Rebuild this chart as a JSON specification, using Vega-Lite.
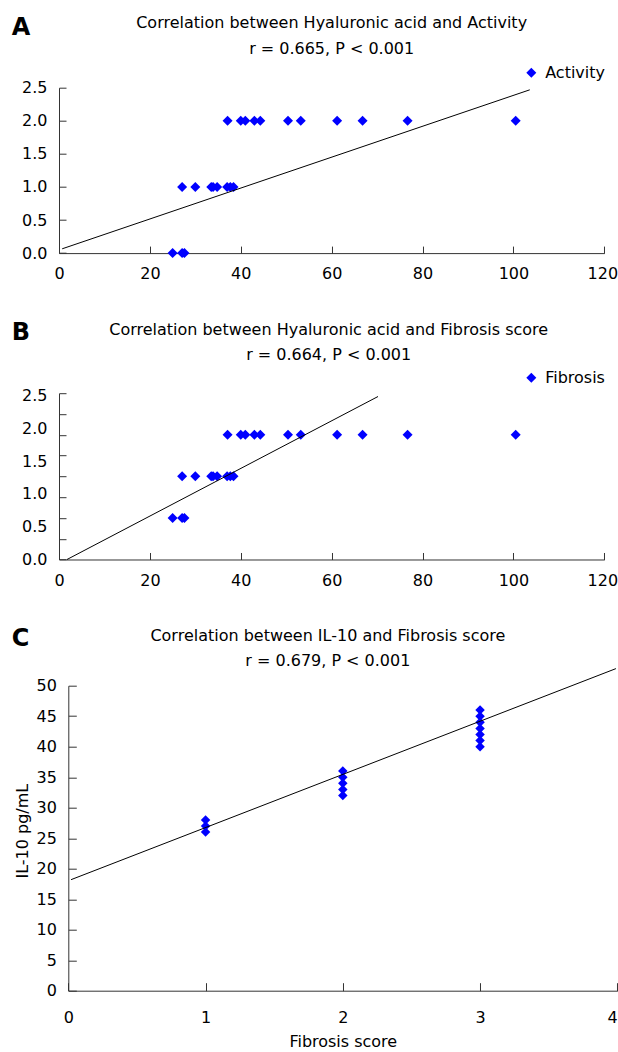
{
  "$schema": "https://vega.github.io/schema/vega-lite/v6.json",
  "padding": {"left": 11, "top": 14.7, "right": 0, "bottom": 0},
  "background": "white",
  "datasets": {
    "hfa": [
      {"ha": 25.0, "activity": 0, "fibrosis": 1},
      {"ha": 27.1, "activity": 0, "fibrosis": 1},
      {"ha": 27.6, "activity": 0, "fibrosis": 1},
      {"ha": 27.1, "activity": 1, "fibrosis": 2},
      {"ha": 30.0, "activity": 1, "fibrosis": 2},
      {"ha": 33.5, "activity": 1, "fibrosis": 2},
      {"ha": 33.9, "activity": 1, "fibrosis": 2},
      {"ha": 34.8, "activity": 1, "fibrosis": 2},
      {"ha": 37.0, "activity": 1, "fibrosis": 2},
      {"ha": 37.7, "activity": 1, "fibrosis": 2},
      {"ha": 38.4, "activity": 1, "fibrosis": 2},
      {"ha": 37.1, "activity": 2, "fibrosis": 3},
      {"ha": 40.0, "activity": 2, "fibrosis": 3},
      {"ha": 41.0, "activity": 2, "fibrosis": 3},
      {"ha": 43.0, "activity": 2, "fibrosis": 3},
      {"ha": 44.3, "activity": 2, "fibrosis": 3},
      {"ha": 50.4, "activity": 2, "fibrosis": 3},
      {"ha": 53.2, "activity": 2, "fibrosis": 3},
      {"ha": 61.2, "activity": 2, "fibrosis": 3},
      {"ha": 66.8, "activity": 2, "fibrosis": 3},
      {"ha": 76.7, "activity": 2, "fibrosis": 3},
      {"ha": 100.5, "activity": 2, "fibrosis": 3}
    ],
    "fitA": [{"ha": 0.7, "activity": 0.065}, {"ha": 103.6, "activity": 2.468}],
    "fitB": [{"ha": 1.76, "fibrosis": 0}, {"ha": 70.2, "fibrosis": 3.92}],
    "il10": [
      {"score": 1, "il10": 26}, {"score": 1, "il10": 27}, {"score": 1, "il10": 28},
      {"score": 2, "il10": 32}, {"score": 2, "il10": 33}, {"score": 2, "il10": 34}, {"score": 2, "il10": 35}, {"score": 2, "il10": 36},
      {"score": 3, "il10": 40}, {"score": 3, "il10": 41}, {"score": 3, "il10": 42}, {"score": 3, "il10": 43}, {"score": 3, "il10": 44}, {"score": 3, "il10": 45}, {"score": 3, "il10": 46}
    ],
    "fitC": [{"score": 0.02, "il10": 18.2}, {"score": 3.99, "il10": 52.8}]
  },
  "vconcat": [
    {
      "width": 545.3,
      "height": 165.4,
      "title": {"text": "Correlation between Hyaluronic acid and Activity", "subtitle": "r = 0.665, P < 0.001", "subtitlePadding": 10, "offset": -41.9, "frame": "group", "dx": 0},
      "layer": [
        {
          "data": {"name": "hfa"},
          "mark": {"type": "point", "shape": "diamond", "filled": true, "size": 100, "opacity": 1, "strokeWidth": 0},
          "encoding": {
            "x": {"field": "ha", "type": "quantitative", "scale": {"domain": [0, 120], "nice": false},
              "axis": {"values": [0, 20, 40, 60, 80, 100, 120], "tickSize": -7, "labelPadding": 19.3, "labelFlush": false, "title": null,
                "labelOffset": {"condition": {"test": "datum.value === 120", "value": -2}, "value": 0}}},
            "y": {"field": "activity", "type": "quantitative", "scale": {"domain": [0, 2.5], "nice": false},
              "axis": {"orient": "left", "values": [0, 0.5, 1, 1.5, 2, 2.5], "format": ".1f", "tickSize": -7, "labelPadding": 19,
                "title": "A", "titleAngle": 0, "titleAlign": "left", "titleBaseline": "alphabetic", "titleX": -47.7, "titleY": -53.3, "titleFontSize": 24, "titleFontWeight": "bold"}},
            "color": {"datum": "Activity", "type": "nominal", "scale": {"range": ["#0000ff"]},
              "legend": {"title": null, "orient": "none", "legendX": 464.3, "legendY": -23, "symbolType": "diamond", "symbolSize": 100, "symbolStrokeWidth": 0, "symbolOpacity": 1, "labelFontSize": 16, "labelOffset": 5.9, "padding": 0, "symbolOffset": 0, "labelColor": "#000000"}}
          }
        },
        {
          "data": {"name": "fitA"},
          "mark": {"type": "line", "color": "#000000", "strokeWidth": 1},
          "encoding": {
            "x": {"field": "ha", "type": "quantitative", "scale": {"domain": [0, 120], "nice": false},
              "axis": {"values": [0, 20, 40, 60, 80, 100, 120], "tickSize": -7, "labelPadding": 19.3, "labelFlush": false, "title": null,
                "labelOffset": {"condition": {"test": "datum.value === 120", "value": -2}, "value": 0}}},
            "y": {"field": "activity", "type": "quantitative", "scale": {"domain": [0, 2.5], "nice": false},
              "axis": {"orient": "left", "values": [0, 0.5, 1, 1.5, 2, 2.5], "format": ".1f", "tickSize": -7, "labelPadding": 19,
                "title": "A", "titleAngle": 0, "titleAlign": "left", "titleBaseline": "alphabetic", "titleX": -47.7, "titleY": -53.3, "titleFontSize": 24, "titleFontWeight": "bold"}}
          }
        }
      ]
    },
    {
      "width": 545.3,
      "height": 166.3,
      "title": {"text": "Correlation between Hyaluronic acid and Fibrosis score", "subtitle": "r = 0.664, P < 0.001", "subtitlePadding": 9, "offset": -42.5, "frame": "group", "dx": -3},
      "resolve": {"axis": {"y": "independent"}},
      "layer": [
        {
          "data": {"name": "hfa"},
          "mark": {"type": "point", "shape": "diamond", "filled": true, "size": 100, "opacity": 1, "strokeWidth": 0},
          "encoding": {
            "x": {"field": "ha", "type": "quantitative", "scale": {"domain": [0, 120], "nice": false},
              "axis": {"values": [0, 20, 40, 60, 80, 100, 120], "tickSize": -7, "labelPadding": 19.7, "labelFlush": false, "title": null,
                "labelOffset": {"condition": {"test": "datum.value === 120", "value": -2}, "value": 0}}},
            "y": {"field": "fibrosis", "type": "quantitative", "scale": {"domain": [0, 4], "nice": false},
              "axis": {"orient": "left", "values": [0, 0.5, 1, 1.5, 2, 2.5, 3, 3.5, 4], "labels": false, "tickSize": -7, "title": null}},
            "color": {"datum": "Fibrosis", "type": "nominal", "scale": {"range": ["#0000ff"]},
              "legend": {"title": null, "orient": "none", "legendX": 464.3, "legendY": -23.4, "symbolType": "diamond", "symbolSize": 100, "symbolStrokeWidth": 0, "symbolOpacity": 1, "labelFontSize": 16, "labelOffset": 5.9, "padding": 0, "symbolOffset": 0, "labelColor": "#000000"}}
          }
        },
        {
          "data": {"name": "fitB"},
          "mark": {"type": "line", "color": "#000000", "strokeWidth": 1},
          "encoding": {
            "x": {"field": "ha", "type": "quantitative", "scale": {"domain": [0, 120], "nice": false},
              "axis": {"values": [0, 20, 40, 60, 80, 100, 120], "tickSize": -7, "labelPadding": 19.7, "labelFlush": false, "title": null,
                "labelOffset": {"condition": {"test": "datum.value === 120", "value": -2}, "value": 0}}},
            "y": {"field": "fibrosis", "type": "quantitative",
              "axis": {"orient": "left", "values": [0, 0.79, 1.58, 2.36, 3.15, 3.94], "labelExpr": "format(datum.value / 1.576, '.1f')", "ticks": false, "domain": false, "labelPadding": 12,
                "title": "B", "titleAngle": 0, "titleAlign": "left", "titleBaseline": "alphabetic", "titleX": -47.7, "titleY": -54, "titleFontSize": 24, "titleFontWeight": "bold"}}
          }
        }
      ]
    },
    {
      "width": 558.3,
      "height": 305,
      "title": {"text": "Correlation between IL-10 and Fibrosis score", "subtitle": "r = 0.679, P < 0.001", "subtitlePadding": 9.3, "offset": -42.2, "frame": "group", "dx": -10.3},
      "resolve": {"axis": {"y": "independent"}},
      "layer": [
        {
          "data": {"name": "il10"},
          "mark": {"type": "point", "shape": "diamond", "filled": true, "size": 90, "opacity": 1, "strokeWidth": 0, "color": "#0000ff"},
          "encoding": {
            "x": {"field": "score", "type": "quantitative", "scale": {"domain": [0, 4], "nice": false, "range": [9.3, 558.3]},
              "axis": {"values": [0, 1, 2, 3, 4], "format": "d", "tickSize": -8, "labelPadding": 27.2, "labelFlush": false,
                "labelAlign": {"condition": {"test": "datum.value === 4", "value": "right"}, "value": "center"},
                "title": "Fibrosis score", "titleFontSize": 16, "titleFontWeight": "normal", "titleBaseline": "alphabetic", "titleY": 56}},
            "y": {"field": "il10", "type": "quantitative", "scale": {"domain": [0, 50], "nice": false},
              "axis": {"orient": "left", "offset": -9.3, "values": [0, 5, 10, 15, 20, 25, 30, 35, 40, 45, 50], "tickSize": -8, "labelPadding": 20,
                "title": "IL-10 pg/mL", "titleFontSize": 16, "titleFontWeight": "normal", "titleAngle": 270, "titleAlign": "center", "titleBaseline": "middle", "titleX": -45.7, "titleY": 145}}
          }
        },
        {
          "data": {"name": "fitC"},
          "mark": {"type": "line", "color": "#000000", "strokeWidth": 1},
          "encoding": {
            "x": {"field": "score", "type": "quantitative", "scale": {"domain": [0, 4], "nice": false, "range": [9.3, 558.3]},
              "axis": {"values": [0, 1, 2, 3, 4], "format": "d", "tickSize": -8, "labelPadding": 27.2, "labelFlush": false,
                "labelAlign": {"condition": {"test": "datum.value === 4", "value": "right"}, "value": "center"},
                "title": "Fibrosis score", "titleFontSize": 16, "titleFontWeight": "normal", "titleBaseline": "alphabetic", "titleY": 56}},
            "y": {"field": "il10", "type": "quantitative",
              "axis": {"orient": "left", "offset": -9.3, "labels": false, "ticks": false, "domain": false,
                "title": "C", "titleAngle": 0, "titleAlign": "left", "titleBaseline": "alphabetic", "titleX": -57, "titleY": -40, "titleFontSize": 24, "titleFontWeight": "bold"}}
          }
        }
      ]
    }
  ],
  "spacing": 38.5,
  "align": "none",
  "bounds": "full",
  "resolve": {"scale": {"color": "independent"}, "legend": {"color": "independent"}},
  "config": {
    "font": "DejaVu Sans",
    "view": {"stroke": null},
    "axis": {"grid": false, "domainColor": "#333333", "tickColor": "#333333", "labelColor": "#000000", "titleColor": "#000000", "labelFont": "DejaVu Sans", "labelFontSize": 16, "titleFont": "DejaVu Sans", "domainWidth": 1, "tickWidth": 1},
    "title": {"font": "DejaVu Sans", "fontSize": 16, "fontWeight": "normal", "subtitleFont": "DejaVu Sans", "subtitleFontSize": 16, "color": "#000000", "subtitleColor": "#000000", "anchor": "middle"},
    "legend": {"labelFont": "DejaVu Sans"}
  }
}
